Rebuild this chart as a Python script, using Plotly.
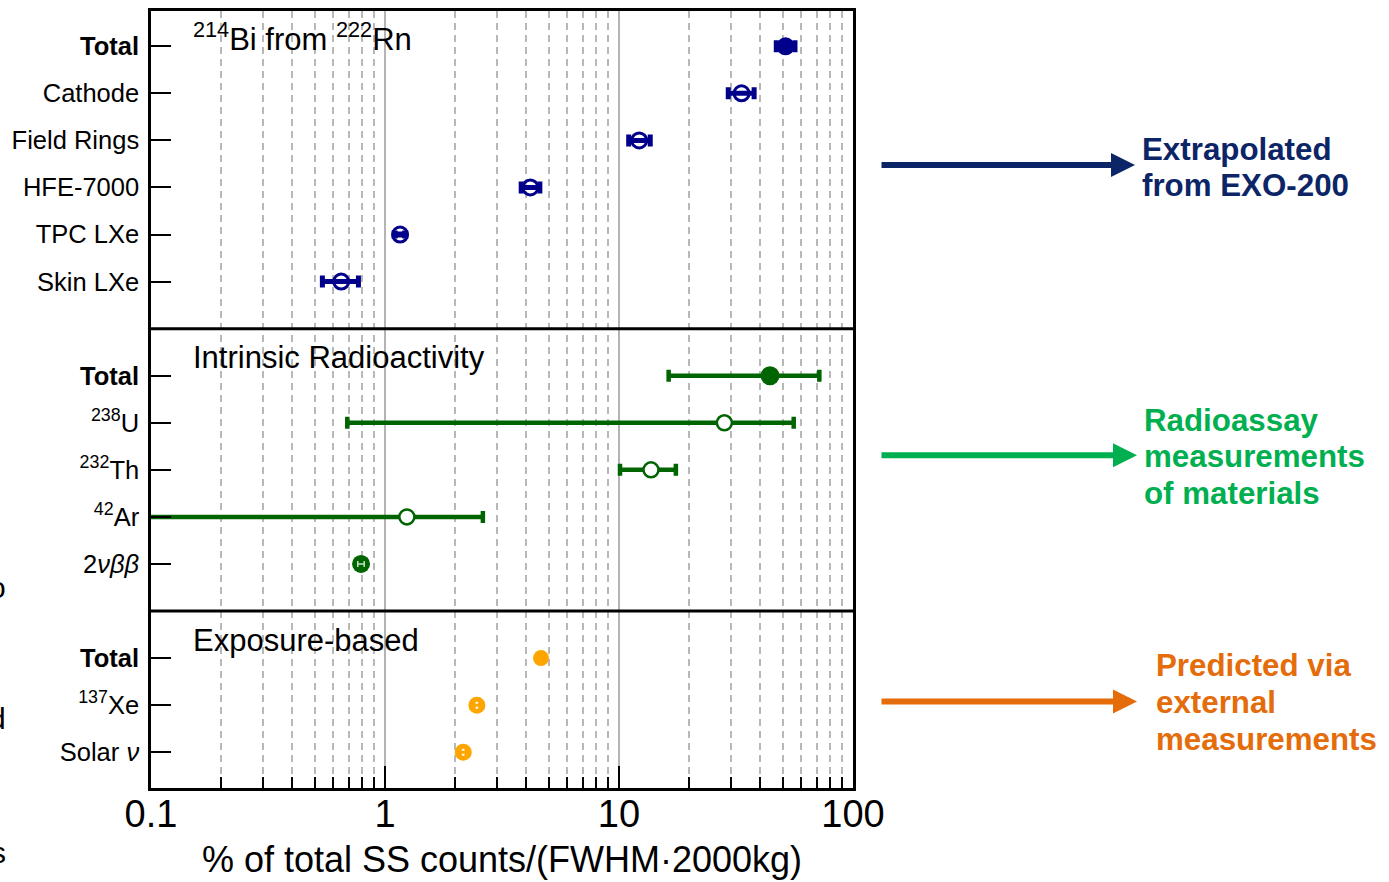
import plotly.graph_objects as go

# ---------------- data ----------------
# Panel 1: 214Bi from 222Rn (extrapolated from EXO-200)
bi_labels = ["<b>Total</b>", "Cathode", "Field Rings", "HFE-7000", "TPC LXe", "Skin LXe"]
bi_values = [51.5, 33.4, 12.2, 4.18, 1.16, 0.65]
bi_low = [47.0, 29.3, 11.0, 3.82, 1.10, 0.54]
bi_high = [56.5, 37.8, 13.6, 4.59, 1.22, 0.77]

# Panel 2: Intrinsic radioactivity (radioassay)
ir_labels = ["<b>Total</b>", "<sup>238</sup>U", "<sup>232</sup>Th", "<sup>42</sup>Ar", "2<i>νββ</i>"]
ir_values = [44.2, 28.2, 13.7, 1.24, 0.79]
ir_low = [16.3, 0.69, 10.1, 0.01, 0.765]
ir_high = [71.8, 55.8, 17.5, 2.62, 0.815]

# Panel 3: Exposure-based
ex_labels = ["<b>Total</b>", "<sup>137</sup>Xe", "Solar <i>ν</i>"]
ex_values = [4.64, 2.47, 2.16]
ex_low = [4.55, 2.40, 2.10]
ex_high = [4.73, 2.54, 2.22]

x_ticks = [0.1, 1, 10, 100]
x_tick_text = ["0.1", "1", "10", "100"]
x_minor = [m * d for d in (0.1, 1, 10) for m in range(2, 10)]

panel_titles = ["<sup>214</sup>Bi from <sup>222</sup>Rn", "Intrinsic Radioactivity", "Exposure-based"]

side_lines = [
    ["Extrapolated", "from EXO-200"],
    ["Radioassay", "measurements", "of materials"],
    ["Predicted via", "external", "measurements"],
]

NAVY = "#00008B"
GREEN = "#006400"
ORANGE = "#FFA500"
FONT = "Liberation Sans, Arial, Helvetica, sans-serif"

# ---------------- layout helpers ----------------
W, H = 1389, 882
L, R, T, B = 151, 853, 8, 790


def fx(px):
    return (px - L) / (R - L)


def fy(py):
    return (B - py) / (B - T)


# row positions: panels separated by one empty row
rows1 = list(range(0, len(bi_labels)))
rows2 = list(range(rows1[-1] + 2, rows1[-1] + 2 + len(ir_labels)))
rows3 = list(range(rows2[-1] + 2, rows2[-1] + 2 + len(ex_labels)))


def errs(vals, lo, hi):
    return [h - v for v, h in zip(vals, hi)], [v - l for v, l in zip(vals, lo)]


fig = go.Figure()


def add(vals, lo, hi, rows, idx, marker, ecolor, thick, width):
    v = [vals[i] for i in idx]
    p, m = errs(v, [lo[i] for i in idx], [hi[i] for i in idx])
    fig.add_trace(go.Scatter(
        x=v, y=[rows[i] for i in idx], mode="markers", marker=marker,
        error_x=dict(type="data", array=p, arrayminus=m, color=ecolor,
                     thickness=thick, width=width),
        showlegend=False, hoverinfo="x+y"))


# panel 1
add(bi_values, bi_low, bi_high, rows1, [0],
    dict(symbol="circle", size=18, color=NAVY), NAVY, 5, 6)
add(bi_values, bi_low, bi_high, rows1, [1, 2, 3, 5],
    dict(symbol="circle-open", size=15, color=NAVY, line=dict(width=3, color=NAVY)), NAVY, 5, 6)
add(bi_values, bi_low, bi_high, rows1, [4],
    dict(symbol="circle-open", size=15, color=NAVY, line=dict(width=3, color=NAVY)), NAVY, 6, 4)

# panel 2
add(ir_values, ir_low, ir_high, rows2, [0],
    dict(symbol="circle", size=19, color=GREEN), GREEN, 4.5, 6)
add(ir_values, ir_low, ir_high, rows2, [1, 2, 3],
    dict(symbol="circle", size=15, color="white", line=dict(width=2.5, color=GREEN)), GREEN, 4.5, 6)
add(ir_values, ir_low, ir_high, rows2, [4],
    dict(symbol="circle", size=18, color=GREEN), GREEN, 2, 3)
# light error-bar overlay on the 2vbb point
add(ir_values, ir_low, ir_high, rows2, [4],
    dict(symbol="circle", size=18, color=GREEN, opacity=0), "#c8e0c8", 1.5, 3)

# panel 3
add(ex_values, ex_low, ex_high, rows3, [0],
    dict(symbol="circle", size=16, color=ORANGE), ORANGE, 3, 4)
add(ex_values, ex_low, ex_high, rows3, [1, 2],
    dict(symbol="circle-open", size=12, color=ORANGE, line=dict(width=5, color=ORANGE)), ORANGE, 3, 4)

tick_rows = rows1 + rows2 + rows3
tick_text = bi_labels + ir_labels + ex_labels

y_top = rows1[0] - 0.75
y_bot = rows3[-1] + 0.76

shapes = []
for y in [(rows1[-1] + rows2[0]) / 2, (rows2[-1] + rows3[0]) / 2]:
    shapes.append(dict(type="line", xref="paper", yref="y", x0=0, x1=1, y0=y, y1=y,
                       line=dict(color="black", width=3)))

annotations = []
# panel titles
for k, (title, r0) in enumerate(zip(panel_titles, [rows1[0], rows2[0], rows3[0]])):
    off = 0.2 if k == 0 else 0.38
    annotations.append(dict(xref="paper", yref="y", x=fx(191), y=r0 - off, text=title,
                            showarrow=False, xanchor="left", yanchor="middle",
                            font=dict(size=31, color="black", family=FONT)))

# right-hand arrows + labels
side = [
    ("#0B2566", 163, 1135, 1140, [147, 184]),
    ("#00B050", 455, 1137, 1142, [420, 456, 494]),
    ("#E46C0A", 703, 1137, 1154, [667, 704, 741]),
]
for lines, (col, ay_px, head_px, tx_px, ys) in zip(side_lines, side):
    annotations.append(dict(xref="paper", yref="paper", x=fx(head_px), y=fy(ay_px),
                            ax=880 - head_px, ay=0, axref="pixel", ayref="pixel",
                            text="", showarrow=True, arrowhead=2, arrowsize=0.8,
                            arrowwidth=6, arrowcolor=col))
    for line, py in zip(lines, ys):
        annotations.append(dict(xref="paper", yref="paper", x=fx(tx_px), y=fy(py),
                                text="<b>" + line + "</b>", showarrow=False,
                                xanchor="left", yanchor="middle", align="left",
                                font=dict(size=31.3, color=col, family=FONT)))

# clipped slide-text fragments on the left edge
for ch, py in [("o", 588), ("d", 720), ("s", 855)]:
    annotations.append(dict(xref="paper", yref="paper", x=fx(8), y=fy(py), text=ch,
                            showarrow=False, xanchor="right", yanchor="middle",
                            font=dict(size=30, color="black", family=FONT)))

fig.update_layout(
    width=W, height=H, autosize=False,
    margin=dict(l=L, r=W - R, t=T, b=H - B, pad=0),
    paper_bgcolor="white", plot_bgcolor="white",
    font=dict(family=FONT, color="black"),
    shapes=shapes, annotations=annotations,
    xaxis=dict(
        type="log", range=[-1, 2],
        tickmode="array", tickvals=x_ticks, ticktext=x_tick_text,
        ticks="inside", ticklen=22, tickwidth=2, tickcolor="black",
        tickfont=dict(size=38, color="black", family=FONT),
        ticklabelstandoff=-9,
        showgrid=True, gridcolor="#b4b4b4", gridwidth=2,
        showline=True, linecolor="black", linewidth=2.5, mirror=True,
        zeroline=False,
        minor=dict(tickmode="array", tickvals=x_minor, ticks="inside", ticklen=11,
                   tickwidth=1.5, tickcolor="black",
                   showgrid=True, gridcolor="#b8b8b8", gridwidth=2, griddash="7px,5px"),
        title=dict(text="% of total SS counts/(FWHM·2000kg)",
                   font=dict(size=36, color="black", family=FONT), standoff=13),
    ),
    yaxis=dict(
        range=[y_bot, y_top],
        tickmode="array", tickvals=tick_rows, ticktext=tick_text,
        ticks="inside", ticklen=20, tickwidth=2, tickcolor="black",
        tickfont=dict(size=25.5, color="black", family=FONT),
        showgrid=False, zeroline=False,
        showline=True, linecolor="black", linewidth=2.5, mirror=True,
        ticklabelstandoff=4,
    ),
)

fig.write_html("out.html")
